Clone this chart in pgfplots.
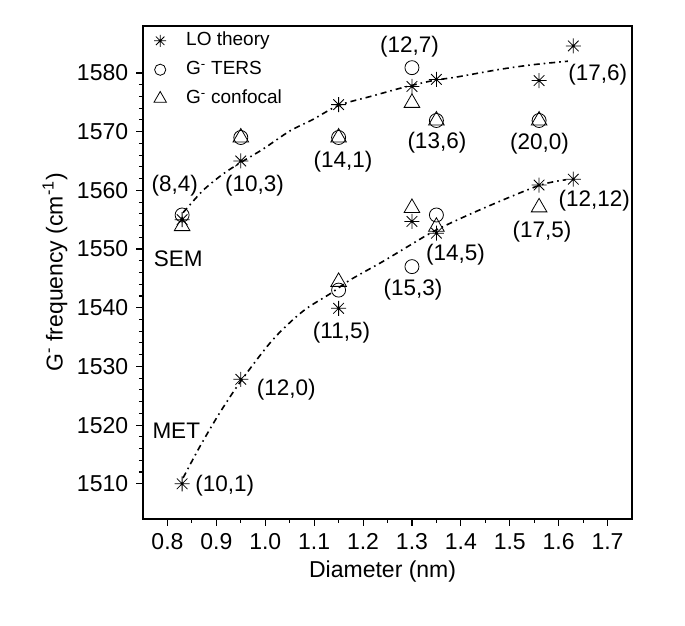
\documentclass[border=0pt]{standalone}
\usepackage{fontspec}
\setmainfont{Liberation Sans}
\usepackage{pgfplots}
\pgfplotsset{compat=1.18}
\pgfdeclareplotmark{ast8}{%
  \pgfpathmoveto{\pgfpoint{0pt}{\pgfplotmarksize}}\pgfpathlineto{\pgfpoint{0pt}{-\pgfplotmarksize}}%
  \pgfpathmoveto{\pgfpoint{\pgfplotmarksize}{0pt}}\pgfpathlineto{\pgfpoint{-\pgfplotmarksize}{0pt}}%
  \pgfpathmoveto{\pgfpoint{0.707\pgfplotmarksize}{0.707\pgfplotmarksize}}\pgfpathlineto{\pgfpoint{-0.707\pgfplotmarksize}{-0.707\pgfplotmarksize}}%
  \pgfpathmoveto{\pgfpoint{-0.707\pgfplotmarksize}{0.707\pgfplotmarksize}}\pgfpathlineto{\pgfpoint{0.707\pgfplotmarksize}{-0.707\pgfplotmarksize}}%
  \pgfusepathqstroke}
\begin{document}
\fontsize{23}{27}\selectfont
\begin{tikzpicture}
\path (-143pt,-107pt) rectangle (542pt,519pt);
\begin{axis}[
  at={(0,0)}, anchor=south west,
  scale only axis, width=489pt, height=493pt,
  xmin=0.75, xmax=1.75, ymin=1504, ymax=1588,
  xtick={0.8,0.9,...,1.71}, minor x tick num=1,
  ytick={1510,1520,...,1580}, minor y tick num=4,
  xtick pos=bottom, ytick pos=left,
  tick align=outside,
  major tick length=7pt, minor tick length=4pt,
  axis line style={line width=1.1pt},
  every tick/.style={line width=1.1pt, black},
  /pgf/number format/assume math mode=true,
  xticklabel style={/pgf/number format/.cd, fixed, fixed zerofill, precision=1},
  yticklabel style={/pgf/number format/.cd, set thousands separator={}},
  xlabel={Diameter (nm)},
  ylabel={G\textsuperscript{-} frequency (cm\textsuperscript{-1})},
  xlabel style={at={(axis description cs:0.49,-0.1075)}, anchor=center},
  ylabel style={at={(axis description cs:-0.18,0.5)}, anchor=center},
  legend style={at={(0.0,0.996)}, anchor=north west, draw=none, fill=none,
    font=\fontsize{19}{22}\selectfont, row sep=8pt, cells={anchor=west}},
  legend image code/.code={\draw[mark repeat=2,mark phase=2] plot coordinates {(14pt,0pt)(14pt,0pt)}; \path[draw=none] (0pt,0pt) -- (38pt,0pt);},
  legend image post style={/tikz/every mark/.append style={scale=0.8}},
  clip=false,
]
\addplot[only marks, mark=ast8, mark size=7.5pt, line width=0.8pt, black] coordinates {
 (0.83,1555) (0.95,1565) (1.15,1574.6) (1.30,1577.7) (1.35,1578.9) (1.56,1578.7) (1.63,1584.6)
 (0.83,1510) (0.95,1527.8) (1.15,1539.9) (1.30,1554.7) (1.35,1552.7) (1.56,1560.9) (1.63,1561.9)
};
\addlegendentry{LO theory}
\addplot[only marks, mark=o, mark size=7pt, line width=0.8pt, black] coordinates {
 (0.83,1555.8) (0.95,1569) (1.15,1569) (1.30,1580.9) (1.35,1571.9) (1.56,1571.9)
 (1.15,1543) (1.30,1547) (1.35,1555.8)
};
\addlegendentry{G\textsuperscript{-} TERS}
\addplot[only marks, mark=triangle, mark size=9pt, line width=0.8pt, black] coordinates {
 (0.83,1553.9) (0.95,1569) (1.15,1569) (1.30,1574.9) (1.35,1571.9) (1.56,1571.9)
 (1.15,1544.4) (1.30,1557) (1.35,1553.8) (1.56,1557.1)
};
\addlegendentry{G\textsuperscript{-} confocal}
\addplot[no marks, line width=1.6pt, black, dash pattern=on 6pt off 4pt on 1.6pt off 4pt, smooth, forget plot] coordinates {
 (0.832,1556.2) (0.873,1560) (0.914,1562.8) (0.951,1564.8) (0.995,1567) (1.05,1570.1)
 (1.098,1572.1) (1.151,1574.5) (1.22,1576.1) (1.281,1577.5) (1.343,1578.7) (1.391,1579.3)
 (1.479,1580.6) (1.547,1581.4) (1.619,1582)
};
\addplot[no marks, line width=1.6pt, black, dash pattern=on 6pt off 4pt on 1.6pt off 4pt, smooth, forget plot] coordinates {
 (0.832,1511) (0.866,1516.3) (0.907,1522.1) (0.951,1527.6) (1.016,1534.6) (1.077,1539.4)
 (1.135,1542.5) (1.173,1544.7) (1.241,1547.9) (1.289,1550.3) (1.351,1553.3) (1.445,1556.9)
 (1.559,1560.8) (1.615,1561.8)
};
\begin{scope}[every node/.style={font=\fontsize{22.5}{26}\selectfont}]
\node at (axis cs:0.815,1560.8) {(8,4)};
\node at (axis cs:0.978,1560.8) {(10,3)};
\node at (axis cs:1.159,1564.8) {(14,1)};
\node at (axis cs:1.295,1584.5) {(12,7)};
\node at (axis cs:1.351,1568.1) {(13,6)};
\node at (axis cs:1.561,1567.9) {(20,0)};
\node at (axis cs:1.68,1579.7) {(17,6)};
\node at (axis cs:1.673,1558.3) {(12,12)};
\node at (axis cs:1.566,1552.9) {(17,5)};
\node at (axis cs:1.389,1549) {(14,5)};
\node at (axis cs:1.302,1543) {(15,3)};
\node at (axis cs:1.156,1535.7) {(11,5)};
\node at (axis cs:1.043,1526) {(12,0)};
\node at (axis cs:0.917,1509.7) {(10,1)};
\node at (axis cs:0.822,1548.4) {SEM};
\node at (axis cs:0.818,1519) {MET};
\end{scope}
\end{axis}
\end{tikzpicture}
\end{document}
